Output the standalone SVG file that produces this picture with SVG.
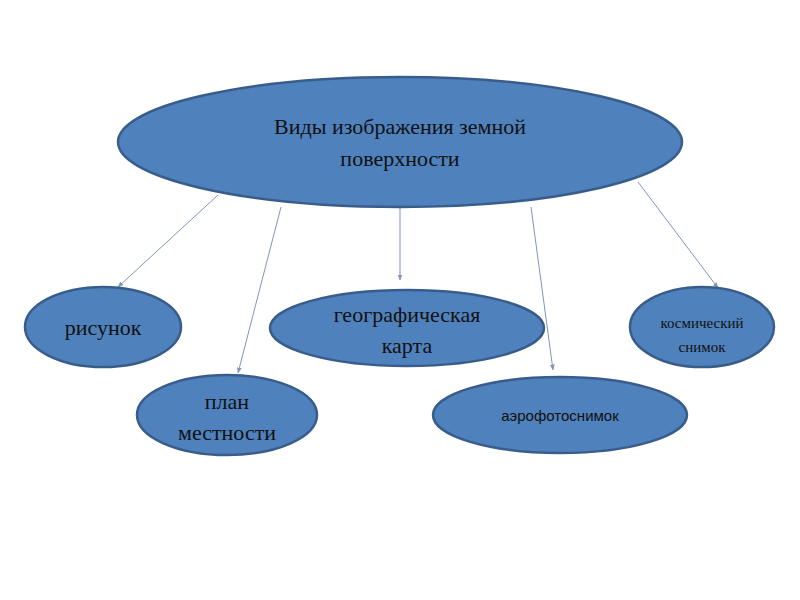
<svg xmlns="http://www.w3.org/2000/svg" width="800" height="600" viewBox="0 0 800 600">
<defs>
<style>
.n{fill:#4F81BD;stroke:#385D8A;stroke-width:2.5}
.t{font-family:"Liberation Serif",serif;fill:#111;text-anchor:middle}
.s{font-family:"Liberation Sans",sans-serif;fill:#111;text-anchor:middle}
.c{stroke:#7F95B8;stroke-width:1;fill:none;marker-end:url(#a)}
</style>
<marker id="a" viewBox="0 0 10 10" refX="9" refY="5" markerWidth="6" markerHeight="6" orient="auto"><path d="M0,1 L10,5 L0,9 z" fill="#7F95B8"/></marker>
</defs>
<rect width="800" height="600" fill="#fff"/>
<g id="connectors">
<line class="c" x1="218" y1="195" x2="118" y2="287"/>
<line class="c" x1="281" y1="207" x2="238" y2="373"/>
<line class="c" x1="400" y1="207" x2="400" y2="280"/>
<line class="c" x1="531" y1="207" x2="553" y2="370"/>
<line class="c" x1="638" y1="182" x2="718" y2="288"/>
</g>
<g id="root"><ellipse class="n" cx="400" cy="142" rx="282" ry="65"/>
<text class="t" x="400" y="134" font-size="22">Виды изображения земной</text>
<text class="t" x="400" y="166" font-size="22">поверхности</text></g>
<g id="risunok"><ellipse class="n" cx="103" cy="327" rx="78" ry="40"/>
<text class="t" x="103" y="335" font-size="22">рисунок</text></g>
<g id="plan"><ellipse class="n" cx="227" cy="415" rx="90" ry="40"/>
<text class="t" x="227" y="409" font-size="22">план</text>
<text class="t" x="227" y="440" font-size="22">местности</text></g>
<g id="karta"><ellipse class="n" cx="407" cy="328" rx="137" ry="38"/>
<text class="t" x="407" y="322" font-size="22">географическая</text>
<text class="t" x="407" y="353" font-size="22">карта</text></g>
<g id="aero"><ellipse class="n" cx="560" cy="415" rx="127" ry="38"/>
<text class="s" x="560" y="421" font-size="15">аэрофотоснимок</text></g>
<g id="kosmos"><ellipse class="n" cx="702" cy="327" rx="72" ry="40"/>
<text class="t" x="702" y="328" font-size="15">космический</text>
<text class="t" x="702" y="352" font-size="15">снимок</text></g>
</svg>
